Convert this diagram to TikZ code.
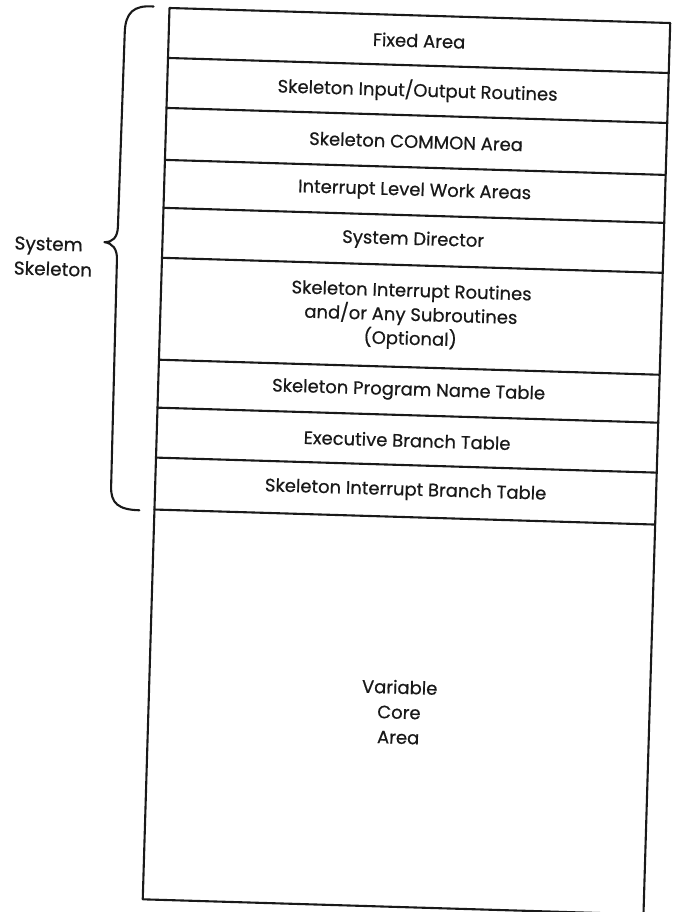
\documentclass[tikz,border=0pt]{standalone}
\usepackage{fontspec}
\setmainfont{Poppins}[FakeBold=0.6]
\begin{document}
\begin{tikzpicture}[x=1pt,y=-1pt,
  cell/.style={minimum width=501pt, inner sep=0pt, outer sep=0pt,
    anchor=north west, align=center, text=black!90,
    font=\fontsize{18}{24}\selectfont},
  rule/.style={draw=black!90, line width=2.1pt, line cap=round, line join=round},
  sidelabel/.style={align=left, anchor=west, text=black!90, inner sep=0pt,
    font=\fontsize{18.5}{25}\selectfont}]
\useasboundingbox (0,0) rectangle (677,912);
\begin{scope}[shift={(169.5,8)}, rotate=-1.72, transform shape]
  \node[cell, minimum height=50pt] (fixed) at (0,0) {Fixed Area};
  \node[cell, minimum height=50pt] (io) at (fixed.south west) {Skeleton Input/Output Routines};
  \node[cell, minimum height=52pt] (common) at (io.south west) {Skeleton COMMON Area};
  \node[cell, minimum height=48pt] (work) at (common.south west) {Interrupt Level Work Areas};
  \node[cell, minimum height=50pt] (dir) at (work.south west) {System Director};
  \node[cell, minimum height=102pt] (intr) at (dir.south west) {Skeleton Interrupt Routines\\and/or Any Subroutines\\(Optional)};
  \node[cell, minimum height=48pt] (pnt) at (intr.south west) {Skeleton Program Name Table};
  \node[cell, minimum height=50pt] (ebt) at (pnt.south west) {Executive Branch Table};
  \node[cell, minimum height=52pt] (sibt) at (ebt.south west) {Skeleton Interrupt Branch Table};
  \node[cell, minimum height=390pt, font=\fontsize{18}{25}\selectfont] (var) at (sibt.south west) {Variable\\Core\\Area};
  \draw[rule] (fixed.north west) -- (fixed.north east) -- (var.south east) -- (var.south west) -- cycle;
  \foreach \n in {io,common,work,dir,intr,pnt,ebt,sibt,var}
    \draw[rule] (\n.north west) -- (\n.north east);
  \coordinate (btop) at (-16,-1);
  \coordinate (bbot) at (-15,503);
  \coordinate (btip) at (-58,236);
  \draw[rule] (btop) .. controls (-36,-2) and (-44,6) .. (-44,26)
    -- (-45,220) .. controls (-45,231) and (-50,236) .. (btip)
    .. controls (-50,237) and (-45,242) .. (-45,253)
    -- (-44,480) .. controls (-44,497) and (-36,503) .. (bbot);
  \node[sidelabel] (label) at (-148,252) {System\\Skeleton};
\end{scope}
\end{tikzpicture}
\end{document}
